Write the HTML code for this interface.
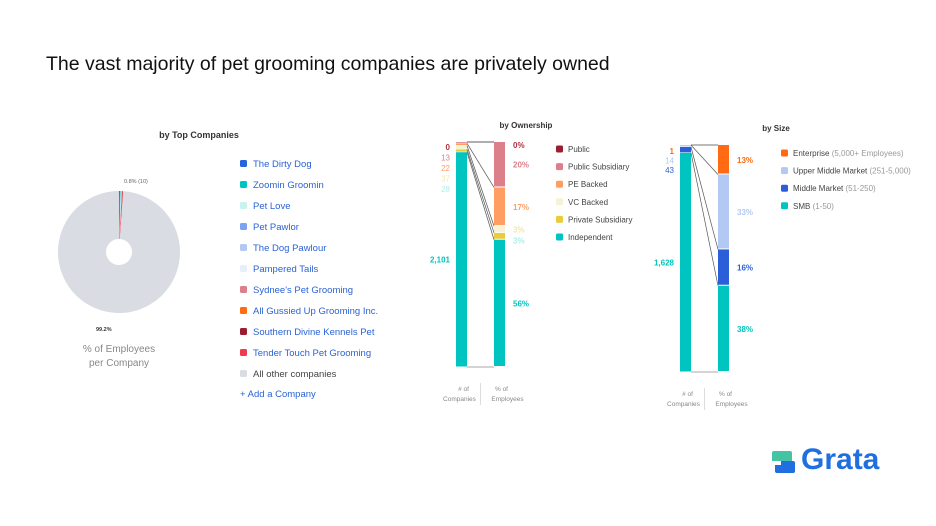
<!DOCTYPE html>
<html><head><meta charset="utf-8"><style>
body{margin:0;width:936px;height:526px;background:#fff;font-family:"Liberation Sans",sans-serif;overflow:hidden;position:relative}
.t{position:absolute;white-space:nowrap}
</style></head><body>
<div class="t" style="left:46px;top:53px;font-size:19.5px;color:#111">The vast majority of pet grooming companies are privately owned</div>
<svg width="936" height="526" style="position:absolute;left:0;top:0" id="svg"></svg>
<div class="t" style="left:772px;top:446px;">
 <svg width="24" height="24" style="position:absolute;left:0;top:5px"><rect x="0" y="0" width="20" height="11" rx="2" fill="#45c4a4"/><rect x="3" y="10" width="20" height="12" rx="2" fill="#1f6fe0"/><rect x="0" y="10" width="9" height="4" fill="#fff"/></svg>
 <span style="position:absolute;left:29px;top:-3px;font-size:30px;font-weight:bold;color:#1f6fe0">Grata</span>
</div>
<script>
const NS='http://www.w3.org/2000/svg';const svg=document.getElementById('svg');
function el(tag,attrs,parent){const e=document.createElementNS(NS,tag);for(const k in attrs)e.setAttribute(k,attrs[k]);(parent||svg).appendChild(e);return e;}
function txt(x,y,s,size,fill,anchor,weight){const e=el('text',{x:x,y:y,'font-size':size,fill:fill,'text-anchor':anchor||'start','font-weight':weight||'normal','font-family':'Liberation Sans, sans-serif'});e.textContent=s;return e;}

// ---- Top companies pie ----
const pieNames=["The Dirty Dog","Zoomin Groomin","Pet Love","Pet Pawlor","The Dog Pawlour","Pampered Tails","Sydnee's Pet Grooming","All Gussied Up Grooming Inc.","Southern Divine Kennels Pet","Tender Touch Pet Grooming","All other companies"];
const pieValues=[0.25,0.15,0.15,0.05,0.05,0.05,0.05,0.05,0.05,0.25,99.2];
const pieColors=["#2563e0","#00c4bf","#c8f3ef","#7ba3ee","#b3c8f3","#e7eefc","#dd7f8a","#ff6a13","#9b1d30","#ee3b4e","#d9dce3"];
txt(199,138,"by Top Companies",9,"#333","middle","bold");
const cx=119,cy=252,R=61,r0=13;
let total=pieValues.reduce((a,b)=>a+b,0),ang=-Math.PI/2;
pieValues.forEach((v,i)=>{const a2=ang+v/total*2*Math.PI;
 const p=(a,rr)=>[cx+rr*Math.cos(a),cy+rr*Math.sin(a)];
 const [x1,y1]=p(ang,R),[x2,y2]=p(a2,R),[x3,y3]=p(a2,r0),[x4,y4]=p(ang,r0);const lg=(a2-ang)>Math.PI?1:0;
 const s=el('path',{d:`M${x1},${y1}A${R},${R} 0 ${lg} 1 ${x2},${y2}L${x3},${y3}A${r0},${r0} 0 ${lg} 0 ${x4},${y4}Z`,fill:pieColors[i]});
 
 
 ang=a2;});
txt(124,183,"0.8% (10)",5.5,"#666");
txt(96,331,"99.2%",5.5,"#333","start","bold");
txt(119,352,"% of Employees",10,"#888","middle");
txt(119,366,"per Company",10,"#888","middle");
pieNames.forEach((n,i)=>{const y=164+i*21;
 const r=el('rect',{x:240,y:y-4,width:7,height:7,rx:1.5,fill:pieColors[i]});
 
 
 const t=txt(253,y+3,n,9.5,i==10?"#444":"#2a62d6");
 
 });
const add=txt(240,397,"+ Add a Company",9.5,"#2a62d6");



// ---- Ownership ----
const ownCats=["Public","Public Subsidiary","PE Backed","VC Backed","Private Subsidiary","Independent"];
const ownCounts=[0,13,22,37,28,2101];
const ownPct=[0,20,17,3,3,56];
const ownColors=["#9b1d30","#dd7f8a","#ff9d63","#f6f2d6","#e8cc3a","#00c4bf"];
const ownLblColors=["#b03040","#dd7f8a","#ff9d63","#f0e8b0","#aeeeea","#00c4bf"];
const sizeCats=["Enterprise","Upper Middle Market","Middle Market","SMB"];
const sizeSub=["(5,000+ Employees)","(251-5,000)","(51-250)","(1-50)"];
const sizeCounts=[1,14,43,1628];
const sizePct=[13,33,16,38];
const sizeColors=["#ff6a13","#b3c8f3","#2b5fd9","#00c4bf"];
const sizeLblColors=["#ff6a13","#b3c8f3","#2b5fd9","#00c4bf"];

function stack(cfg){
 const {lx,rx,w,top,bot,counts,pct,colors,lbl,title,titleX,name}=cfg;
 txt(titleX,cfg.titleY,title,8,"#333","middle","bold");
 const H=bot-top;const ct=counts.reduce((a,b)=>a+b,0),pt=pct.reduce((a,b)=>a+b,0);
 let yl=top,yr=top;const lt=[],rt=[];
 counts.forEach((c,i)=>{const h=c/ct*H;const r=el('rect',{x:lx,y:yl,width:w,height:Math.max(h-0.5,0),fill:colors[i]});
  
  
  lt.push([yl,yl+h]);yl+=h;});
 pct.forEach((p,i)=>{const h=p/pt*H;const r=el('rect',{x:rx,y:yr,width:w,height:Math.max(h-1,0),fill:colors[i]});
  
  
  rt.push([yr,yr+h]);yr+=h;});
 el('line',{x1:lx+w,y1:top,x2:rx,y2:top,stroke:"#777","stroke-width":1});
 el('line',{x1:lx+w,y1:bot,x2:rx,y2:bot,stroke:"#aaa","stroke-width":1});
 for(let i=0;i<counts.length-1;i++){el('line',{x1:lx+w,y1:lt[i][1],x2:rx,y2:rt[i][1],stroke:"#555","stroke-width":0.7});}
 const n=counts.length;
 counts.forEach((c,i)=>{const y=i<n-1?cfg.lblTop+i*cfg.lblGap:(lt[i][0]+lt[i][1])/2+3;
  txt(lx-6,y,c.toLocaleString('en-US'),8,lbl[i],"end",i==n-1||i==0?"bold":"normal");});
 pct.forEach((p,i)=>{let y=(rt[i][0]+rt[i][1])/2+3;if(p<5&&i>0&&pct[i-1]<5)y+=4;if(i==0&&p==0)y=top+6;
  txt(rx+w+8,y,p+"%",8,lbl[i],"start","bold");});
 txt(lx+w/2+2,cfg.axisY,"# of",6.5,"#888","middle");txt(lx+w/2-2,cfg.axisY+10,"Companies",6.5,"#888","middle");
 txt(rx+w/2+2,cfg.axisY,"% of",6.5,"#888","middle");txt(rx+w/2+8,cfg.axisY+10,"Employees",6.5,"#888","middle");
 el('line',{x1:(lx+rx+w)/2,y1:cfg.axisY-8,x2:(lx+rx+w)/2,y2:cfg.axisY+14,stroke:"#ddd"});
}
stack({lx:456,rx:494,w:11,top:142,bot:367,counts:ownCounts,pct:ownPct,colors:ownColors,lbl:ownLblColors,title:"by Ownership",titleX:526,titleY:128,lblTop:150,lblGap:10.5,axisY:391,name:"ownership"});
stack({lx:680,rx:718,w:11,top:145,bot:372,counts:sizeCounts,pct:sizePct,colors:sizeColors,lbl:sizeLblColors,title:"by Size",titleX:776,titleY:131,lblTop:154,lblGap:9.5,axisY:396,name:"size"});
ownCats.forEach((c,i)=>{const y=149+i*17.6;
 const r=el('rect',{x:556,y:y-3.5,width:7,height:7,rx:1.5,fill:ownColors[i]});
 
 
 const t=txt(568,y+3,c,8,"#444");
 
 });
sizeCats.forEach((c,i)=>{const y=153+i*17.6;
 const r=el('rect',{x:781,y:y-3.5,width:7,height:7,rx:1.5,fill:sizeColors[i]});
 
 
 const t=txt(793,y+3,c+" ",8,"#444");const s=el('tspan',{fill:"#999"},t);s.textContent=sizeSub[i];
 
 });
</script>
</body></html>
